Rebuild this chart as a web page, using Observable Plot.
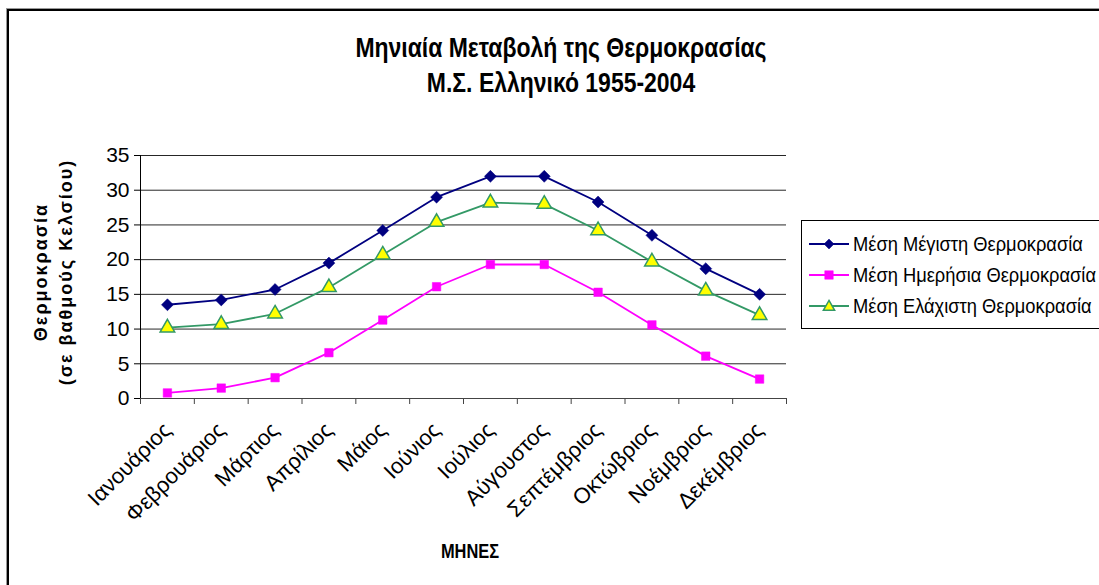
<!DOCTYPE html>
<html>
<head>
<meta charset="utf-8">
<script src="https://cdn.jsdelivr.net/npm/d3@7"></script>
<script src="https://cdn.jsdelivr.net/npm/@observablehq/plot@0.6"></script>
<style>
  html, body { margin: 0; padding: 0; background: #fff; }
  #wrap { position: relative; width: 1099px; height: 585px; overflow: hidden; font-family: "Liberation Sans", Arial, sans-serif; }
  #frame { position: absolute; left: 7px; top: 9px; width: 1200px; height: 700px; border-left: 2px solid #000; border-top: 2px solid #000; box-shadow: -1px -1px 0 #999; }
  .title { position: absolute; left: 561px; transform: translate(-50%, 0) scaleX(0.82); white-space: nowrap; font-weight: bold; font-size: 28px; line-height: 28px; color: #000; font-family: "Liberation Sans", Arial, sans-serif; }
  #ylab { position: absolute; left: 54px; top: 272px; width: 0; height: 0; }
  #ylab div { position: absolute; transform: translate(-50%, -50%) rotate(-90deg); white-space: nowrap; text-align: center; font-weight: bold; font-size: 18px; letter-spacing: 2px; line-height: 25px; }
  #xlab { position: absolute; left: 470px; top: 551px; transform: translate(-50%, -50%) scaleX(0.82); font-weight: bold; font-size: 20px; }
  #legend { position: absolute; left: 801px; top: 220px; width: 340px; height: 107px; border: 1px solid #000; background: #fff; }
  .item { position: absolute; left: 6px; height: 24px; display: flex; align-items: center; font-size: 20px; white-space: nowrap; }
  .item svg { margin-right: 3px; flex: none; }
  .item span { display: inline-block; transform-origin: left center; }
  #chart { position: absolute; left: 0; top: 0; }
</style>
</head>
<body>
<div id="wrap">
  <div id="frame"></div>
  <div id="chart"></div>
  <div class="title" style="top:34px">Μηνιαία Μεταβολή της Θερμοκρασίας</div>
  <div class="title" style="top:69px">Μ.Σ. Ελληνικό 1955-2004</div>
  <div id="ylab"><div>Θερμοκρασία<br>(σε βαθμούς Κελσίου)</div></div>
  <div id="xlab">ΜΗΝΕΣ</div>
  <div id="legend"></div>
</div>
<script>
const months = ["Ιανουάριος","Φεβρουάριος","Μάρτιος","Απρίλιος","Μάιος","Ιούνιος","Ιούλιος","Αύγουστος","Σεπτέμβριος","Οκτώβριος","Νοέμβριος","Δεκέμβριος"];
const seriesNames = ["Μέση Μέγιστη Θερμοκρασία","Μέση Ημερήσια Θερμοκρασία","Μέση Ελάχιστη Θερμοκρασία"];
const maxTemp  = [13.5, 14.2, 15.7, 19.5, 24.2, 29.0, 32.0, 32.0, 28.3, 23.5, 18.7, 15.0];
const meanTemp = [0.8, 1.5, 3.0, 6.6, 11.3, 16.1, 19.3, 19.3, 15.3, 10.6, 6.1, 2.8];
const minTemp  = [10.2, 10.7, 12.2, 16.0, 20.7, 25.4, 28.2, 28.0, 24.2, 19.7, 15.5, 12.0];
const yTicks = [0, 5, 10, 15, 20, 25, 30, 35];

const styles = [
  {line: "#000080", fill: "#000080", stroke: "#000080", symbol: "diamond2", r: 5.4},
  {line: "#FF00FF", fill: "#FF00FF", stroke: "#FF00FF", symbol: "square", r: 4.8},
  {line: "#339966", fill: "#FFFF00", stroke: "#339966", symbol: "triangle", r: 5.4}
];
const values = [maxTemp, meanTemp, minTemp];
const rows = values.map((arr, s) => arr.map((v, i) => ({x: i + 0.5, y: v, s})));

const marks = [
  Plot.gridY(yTicks, {stroke: "#000", strokeOpacity: 0.85}),
  Plot.axisY(yTicks, {tickSize: 6, tickPadding: 5, fontSize: 21, label: null, stroke: "#000"}),
  Plot.axisX(d3.range(13), {tickSize: 6, tickFormat: () => "", label: null, stroke: "#444"}),
  Plot.axisX(d3.range(12).map(i => i + 0.5), {tickSize: 0, tickPadding: 28, tickFormat: v => months[Math.floor(v)], tickRotate: -45, fontSize: 22, label: null}),
  Plot.ruleY([0], {stroke: "#444"}),
  Plot.ruleX([0], {stroke: "#000"})
];
rows.forEach((data, s) => {
  const st = styles[s];
  marks.push(Plot.line(data, {x: "x", y: "y", stroke: st.line, strokeWidth: 1.8}));
});
rows.forEach((data, s) => {
  const st = styles[s];
  marks.push(Plot.dot(data, {x: "x", y: "y", symbol: () => st.symbol, r: st.r, fill: st.fill, stroke: st.stroke, strokeWidth: s === 2 ? 1.5 : 0.5}));
});

const chart = Plot.plot({
  width: 1099,
  height: 585,
  marginLeft: 140,
  marginRight: 313,
  marginTop: 155,
  marginBottom: 187,
  style: {fontFamily: "'Liberation Sans', Arial, sans-serif", fontSize: "20px", color: "#000", background: "transparent", overflow: "visible"},
  x: {type: "linear", domain: [0, 12], axis: null},
  y: {domain: [0, 35], axis: null},
  symbol: {type: "identity"},
  marks
});
document.getElementById("chart").appendChild(chart);

// legend
const legend = document.getElementById("legend");
const symPaths = {
  "diamond2": d3.symbol(d3.symbolDiamond2, 64)(),
  "square": d3.symbol(d3.symbolSquare, 72)(),
  "triangle": d3.symbol(d3.symbolTriangle, 55)()
};
const spans = [];
seriesNames.forEach((name, s) => {
  const st = styles[s];
  const div = document.createElement("div");
  div.className = "item";
  div.style.top = (11 + s * 31) + "px";
  div.innerHTML = `<svg width="42" height="16"><line x1="1" x2="41" y1="8" y2="8" stroke="${st.line}" stroke-width="1.8"/><path transform="translate(21,${s===2?9:8})" d="${symPaths[st.symbol]}" fill="${st.fill}" stroke="${st.stroke}" stroke-width="${s===2?1.5:0.5}"/></svg><span>${name}</span>`;
  legend.appendChild(div);
  spans.push(div.querySelector("span"));
});
// fit the longest legend entry inside the visible area
const available = 1094 - 851;
const widest = Math.max(...spans.map(sp => sp.getBoundingClientRect().width));
const k = Math.min(1, available / widest);
spans.forEach(sp => { sp.style.transform = `scaleX(${k})`; });
</script>
</body>
</html>
